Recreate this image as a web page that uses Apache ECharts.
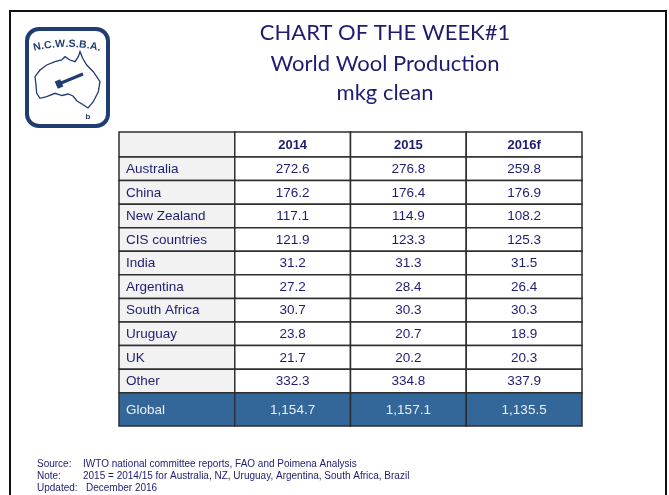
<!DOCTYPE html>
<html>
<head>
<meta charset="utf-8">
<script src="https://cdn.jsdelivr.net/npm/echarts@6/dist/echarts.min.js"></script>
<style>
html,body{margin:0;padding:0;background:#fff;}
#chart{width:669px;height:495px;}
</style>
</head>
<body>
<div id="chart"></div>
<script>
// ---------- data ----------
const titleLines = ['CHART OF THE WEEK#1', 'World Wool Production', 'mkg clean'];
const logoText = 'N.C.W.S.B.A.';
const columns = ['2014', '2015', '2016f'];
const countries = ['Australia', 'China', 'New Zealand', 'CIS countries', 'India',
  'Argentina', 'South Africa', 'Uruguay', 'UK', 'Other'];
const prod2014 = [272.6, 176.2, 117.1, 121.9, 31.2, 27.2, 30.7, 23.8, 21.7, 332.3];
const prod2015 = [276.8, 176.4, 114.9, 123.3, 31.3, 28.4, 30.3, 20.7, 20.2, 334.8];
const prod2016f = [259.8, 176.9, 108.2, 125.3, 31.5, 26.4, 30.3, 18.9, 20.3, 337.9];
const totalLabel = 'Global';
const totals = [1154.7, 1157.1, 1135.5];
const footLabels = ['Source:', 'Note:', 'Updated:'];
const footTexts = [
  'IWTO national committee reports, FAO and Poimena Analysis',
  '2015 = 2014/15 for Australia, NZ, Uruguay, Argentina, South Africa, Brazil',
  'December 2016'
];

// ---------- build ----------
const NAVY = '#1c1c72';
const LOGO = '#1f3d73';
const LINE = '#2e2e2e';
const FONT = '"Liberation Sans", Arial, sans-serif';
const fmt = v => v.toLocaleString('en-US', {minimumFractionDigits: 1, maximumFractionDigits: 1});
const xCats = ['label'].concat(columns);
const valueSets = [prod2014, prod2015, prod2016f];

const headerCells = [{value: ['label', 'header'], text: '', kind: 'label'}]
  .concat(columns.map(c => ({value: [c, 'header'], text: c, kind: 'head'})));
const bodyCells = [];
countries.forEach((name, i) => {
  bodyCells.push({value: ['label', name], text: name, kind: 'label'});
  columns.forEach((c, j) => bodyCells.push({value: [c, name], text: fmt(valueSets[j][i]), kind: 'num'}));
});
const totalCells = [{value: ['label', totalLabel], text: totalLabel, kind: 'totlabel'}]
  .concat(columns.map((c, j) => ({value: [c, totalLabel], text: fmt(totals[j]), kind: 'tot'})));

function makeRender(cells) {
  return function (params, api) {
    const cell = cells[params.dataIndex];
    const c = api.coord([api.value(0), api.value(1)]);
    const s = api.size([1, 1]);
    const x0 = c[0] - s[0] / 2, y0 = c[1] - s[1] / 2;
    let fill = '#ffffff', color = NAVY, weight = 'normal', size = 13.5, align = 'center', tx = c[0];
    if (cell.kind === 'label') { fill = '#f2f2f2'; align = 'left'; tx = x0 + 7; }
    if (cell.kind === 'head') { weight = 'bold'; size = 13; }
    if (cell.kind === 'totlabel') { fill = '#336699'; color = '#e9eef4'; align = 'left'; tx = x0 + 7; }
    if (cell.kind === 'tot') { fill = '#336699'; color = '#e9eef4'; }
    return {
      type: 'group',
      children: [
        {type: 'rect', shape: {x: x0, y: y0, width: s[0], height: s[1]},
         style: {fill: fill, stroke: LINE, lineWidth: 1.5}},
        {type: 'text', style: {text: cell.text, x: tx, y: c[1] + 0.5, align: align, verticalAlign: 'middle',
          fill: color, fontSize: size, fontWeight: weight, fontFamily: FONT}}
      ]
    };
  };
}

const tableLeft = 119, tableWidth = 463;
const grids = [
  {left: tableLeft, width: tableWidth, top: 132, height: 25},
  {left: tableLeft, width: tableWidth, top: 157, height: 235.7},
  {left: tableLeft, width: tableWidth, top: 392.7, height: 33.3}
];
const yCats = [['header'], countries, [totalLabel]];
const cellSets = [headerCells, bodyCells, totalCells];

// Logo graphics
const ausOutline = [[35,76.7],[40,70],[46.7,65],[55,61.7],[61.7,60],[65,56.7],[70,60],[75,61.7],
  [78.3,56.7],[80,51.7],[82.7,58.3],[86.7,65],[93.3,71.7],[100,81.7],[98.3,91.7],[93.3,101.7],
  [88,108],[82,104],[77,101],[73,96],[68,94],[62,95.5],[55,93.3],[46.7,96.7],[40,98.3],[36.7,93.3],[36,85]];
const logoChars = [];
(function () {
  const font = 'bold 10.5px "Liberation Sans", Arial, sans-serif';
  const ctx = document.createElement('canvas').getContext('2d');
  ctx.font = font;
  const widths = logoText.split('').map(ch => ctx.measureText(ch).width);
  const total = widths.reduce((a, b) => a + b, 0);
  const arcLen = 68, n = logoText.length;
  const gap = (arcLen - total) / (n - 1);
  const cx = 67, cy = 44 + 142, R = 142;
  let s = -arcLen / 2;
  for (let k = 0; k < n; k++) {
    const mid = s + widths[k] / 2;
    const a = -Math.PI / 2 + mid / R;
    logoChars.push({type: 'text', x: cx + R * Math.cos(a), y: cy + R * Math.sin(a),
      rotation: -(a + Math.PI / 2),
      style: {text: logoText[k], align: 'center', verticalAlign: 'middle', fill: LOGO,
        font: font}});
    s += widths[k] + gap;
  }
})();

const graphic = [
  {type: 'rect', shape: {x: 10, y: 11, width: 656, height: 520}, style: {fill: 'none', stroke: '#111', lineWidth: 2}, silent: true},
  {type: 'rect', shape: {x: 27, y: 29, width: 81, height: 97, r: 12}, style: {fill: '#fff', stroke: LOGO, lineWidth: 4}},
  {type: 'polygon', shape: {points: ausOutline}, style: {fill: 'none', stroke: LOGO, lineWidth: 1.3}},
  {type: 'line', shape: {x1: 61, y1: 83, x2: 83, y2: 74}, style: {stroke: LOGO, lineWidth: 3}},
  {type: 'rect', x: 59, y: 84, rotation: 0.4, shape: {x: -3, y: -4, width: 6, height: 8}, style: {fill: LOGO}},
  {type: 'text', x: 88, y: 117, style: {text: 'b', align: 'center', verticalAlign: 'middle', fill: LOGO, font: 'bold 8px "Liberation Sans", Arial, sans-serif'}}
].concat(logoChars);

const titleY = [33, 63.5, 93];
titleLines.forEach((t, i) => graphic.push({type: 'text', x: 385, y: titleY[i],
  style: {text: t, align: 'center', verticalAlign: 'middle', fill: NAVY, fontSize: 22, fontFamily: 'Lato, "Open Sans", sans-serif'}}));
const footY = [464.5, 476.5, 488];
footLabels.forEach((t, i) => {
  graphic.push({type: 'text', x: 37, y: footY[i], style: {text: t, verticalAlign: 'middle', fill: NAVY, fontSize: 10, fontFamily: FONT}});
  graphic.push({type: 'text', x: i === 2 ? 86 : 83, y: footY[i], style: {text: footTexts[i], verticalAlign: 'middle', fill: NAVY, fontSize: 10, fontFamily: FONT}});
});

const chart = echarts.init(document.getElementById('chart'), null, {renderer: 'canvas'});
chart.setOption({
  animation: false,
  backgroundColor: '#ffffff',
  grid: grids,
  xAxis: grids.map((g, i) => ({type: 'category', gridIndex: i, data: xCats, show: false})),
  yAxis: grids.map((g, i) => ({type: 'category', gridIndex: i, data: yCats[i], inverse: true, show: false})),
  series: cellSets.map((cells, i) => ({
    type: 'custom', xAxisIndex: i, yAxisIndex: i, silent: true,
    data: cells.map(c => c.value),
    renderItem: makeRender(cells)
  })),
  graphic: graphic
});
</script>
</body>
</html>
